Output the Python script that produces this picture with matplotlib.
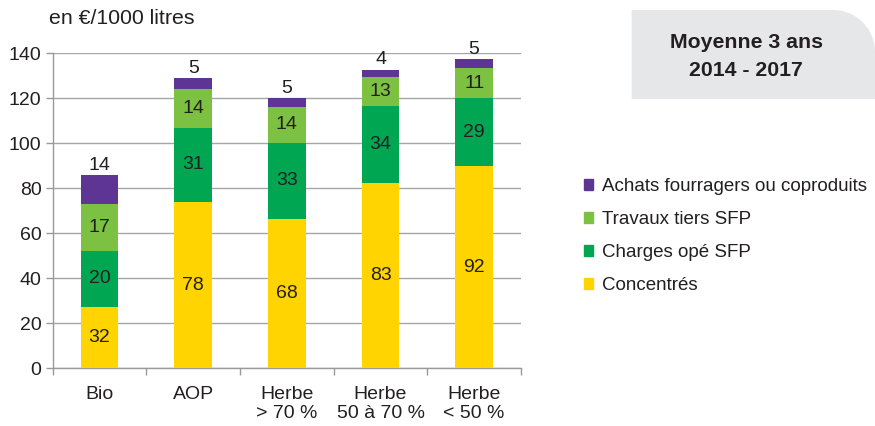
#! /usr/bin/env python3
# Stacked bars: feed costs per 1000 litres, 3-year average 2014-2017

import numpy as np
import matplotlib
matplotlib.use("Agg")
import matplotlib.pyplot as plt
from matplotlib.patches import Patch, Polygon

plt.rcParams['font.family'] = ['Liberation Sans', 'DejaVu Sans']

categories = ["Bio", "AOP", "Herbe\n> 70 %", "Herbe\n50 à 70 %", "Herbe\n< 50 %"]
series = ["Concentrés", "Charges opé SFP", "Travaux tiers SFP", "Achats fourragers ou coproduits"]
colors = ["#ffd400", "#00a651", "#7dc142", "#5e3494"]

# segment heights as drawn
concentres = [27.2, 73.9, 66.2, 82.5, 90.0]
charges_sfp = [25.1, 33.0, 34.1, 34.2, 30.0]
travaux_sfp = [20.7, 17.2, 15.7, 12.6, 13.5]
achats = [12.9, 4.8, 4.1, 3.4, 4.0]

# values printed on the segments
lab_concentres = [32, 78, 68, 83, 92]
lab_charges = [20, 31, 33, 34, 29]
lab_travaux = [17, 14, 14, 13, 11]
lab_achats = [14, 5, 5, 4, 5]

heights = [concentres, charges_sfp, travaux_sfp, achats]
labels = [lab_concentres, lab_charges, lab_travaux, lab_achats]

W, H = 875, 426
FS = 14
fig = plt.figure(figsize=(W / 100, H / 100), dpi=100)
ax = fig.add_axes([52.7 / W, 1 - 368.3 / H, (521 - 52.7) / W, (368.3 - 53.3) / H])

x = np.arange(len(categories))
bottom = np.zeros(len(categories))
for i, (h, lab) in enumerate(zip(heights, labels)):
    h = np.array(h)
    ax.bar(x, h, width=0.4, bottom=bottom, color=colors[i], zorder=3)
    for xi, b, hi, t in zip(x, bottom, h, lab):
        if i < 3:
            ax.text(xi, b + hi / 2, str(t), ha='center', va='center', fontsize=FS, color='#231f20', zorder=4)
        else:
            ax.annotate(str(t), (xi, b + hi), xytext=(0, 1), textcoords='offset points',
                        ha='center', va='bottom', fontsize=FS, color='#231f20')
    bottom += h

ax.set_xlim(-0.5, len(categories) - 0.5)
ax.set_ylim(0, 140)
ax.set_yticks(range(0, 141, 20))
ax.set_xticks(x)
ax.set_xticklabels(categories, fontsize=FS, color='#231f20', linespacing=1.15)
ax.set_xticks(np.arange(-0.5, len(categories), 1), minor=True)
ax.tick_params(axis='x', which='major', length=0, pad=13)
ax.tick_params(axis='x', which='minor', length=5, color='#999999', width=1)
ax.tick_params(axis='y', length=5, color='#999999', width=1, labelsize=FS, labelcolor='#231f20', pad=3)
ax.grid(axis='y', color='#a6a6a6', linewidth=1, zorder=0)
for s in ['top', 'right']:
    ax.spines[s].set_visible(False)
for s in ['left', 'bottom']:
    ax.spines[s].set_color('#999999')
    ax.spines[s].set_linewidth(1)

fig.text(49 / W, 1 - 18 / H, "en €/1000 litres", fontsize=15.3, color='#231f20', va='center', ha='left')

# grey title box with rounded top-right corner (pixel coords)
x0, x1, y0, y1, r = 631.7, 875, 10, 99, 42
t = np.linspace(np.pi / 2, 0, 20)
arc = [(x1 - r + r * np.cos(a), y0 + r - r * np.sin(a)) for a in t]
pts = [(x0, y1), (x0, y0)] + arc + [(x1, y1)]
pts = [(px / W, 1 - py / H) for px, py in pts]
fig.patches.append(Polygon(pts, closed=True, transform=fig.transFigure, facecolor='#e6e7e8', edgecolor='none'))
fig.text(746 / W, 1 - 42.7 / H, "Moyenne 3 ans", fontsize=15.3, fontweight='bold', ha='center', va='center', color='#231f20')
fig.text(746 / W, 1 - 70 / H, "2014 - 2017", fontsize=15.3, fontweight='bold', ha='center', va='center', color='#231f20')

handles = [Patch(color=colors[i], label=series[i]) for i in range(3, -1, -1)]
fig.legend(handles=handles, loc='upper left', bbox_to_anchor=(584 / W, 1 - 178 / H), frameon=False,
           fontsize=13.5, handlelength=0.5, handleheight=0.5, handletextpad=0.45,
           labelspacing=0.85, borderpad=0, borderaxespad=0, labelcolor='#231f20')

fig.savefig("out.png", dpi=100)
